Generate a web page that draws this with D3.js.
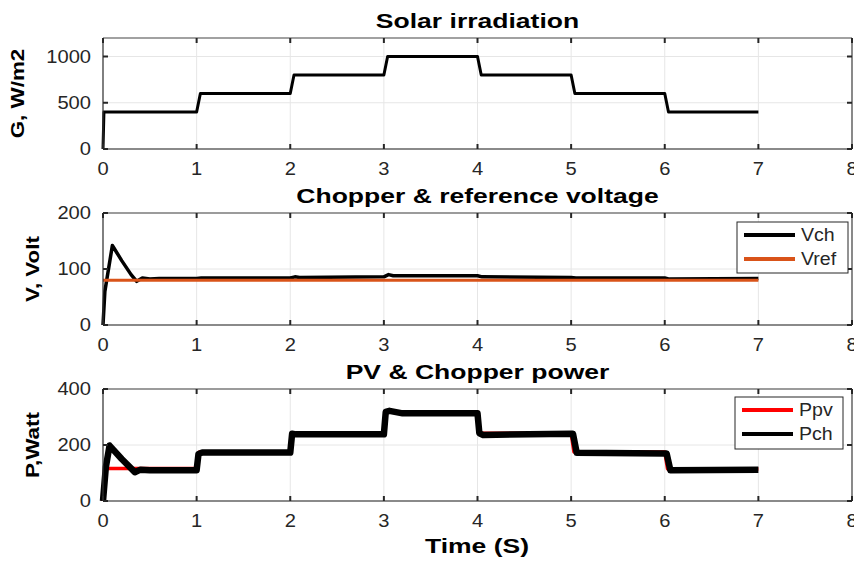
<!DOCTYPE html>
<html>
<head>
<meta charset="utf-8">
<script src="https://cdn.jsdelivr.net/npm/d3@7"></script>
<style>
  body { margin:0; background:#fff; }
  svg { display:block; }
</style>
</head>
<body>
<div id="chart"></div>
<script>
var W = 854, H = 563

var xTicks = [0,1,2,3,4,5,6,7,8]

// solar irradiation, W/m2
var gTime = [0, 0.01, 1.0, 1.04, 2.0, 2.04, 3.0, 3.04, 4.0, 4.04, 5.0, 5.04, 6.0, 6.04, 7.0]
var gVal  = [0, 400, 400, 600, 600, 800, 800, 1000, 1000, 800, 800, 600, 600, 400, 400]
var gTicks = [0, 500, 1000]

// chopper & reference voltage
var vchTime = [0, 0.02, 0.1, 0.2, 0.3, 0.36, 0.42, 0.5, 0.6, 1.0, 1.05, 2.0, 2.05, 2.1, 3.0, 3.05, 3.1, 4.0, 4.05, 5.0, 5.05, 6.0, 6.05, 7.0]
var vchVal  = [0, 60, 142, 115, 90, 78, 84, 82, 83, 83, 84, 84, 86, 85, 86, 90, 88, 88, 86, 85, 84, 84, 82, 83]
var vrefTime = [0, 7]
var vrefVal  = [80, 80]
var vTicks = [0, 100, 200]

// PV & chopper power
var ppvTime = [0, 0.02, 1.0, 1.03, 2.0, 2.03, 3.0, 3.03, 4.0, 4.03, 5.0, 5.03, 6.0, 6.03, 7.0]
var ppvVal  = [0, 116, 116, 175, 175, 242, 242, 318, 318, 242, 242, 175, 175, 114, 114]
var pchTime = [0, 0.03, 0.07, 0.2, 0.34, 0.4, 0.5, 1.0, 1.02, 1.06, 2.0, 2.02, 2.06, 3.0, 3.02, 3.06, 3.2, 4.0, 4.02, 4.06, 5.0, 5.02, 5.06, 6.0, 6.02, 6.06, 7.0]
var pchVal  = [0, 120, 198, 150, 103, 112, 110, 110, 168, 173, 173, 240, 238, 238, 318, 322, 313, 313, 242, 236, 240, 240, 172, 170, 170, 110, 112]
var pTicks = [0, 200, 400]

var FONT = "'Liberation Sans', Arial, Helvetica, sans-serif"
var INK = "#262626"

var panels = [
  { title:"Solar irradiation", ylabel:"G, W/m2", yDomain:[0,1200], yTicks:gTicks, top:38, bottom:149, labelX:24,
    series:[{t:gTime, v:gVal, color:"#000", width:3}], legend:null },
  { title:"Chopper & reference voltage", ylabel:"V, Volt", yDomain:[0,200], yTicks:vTicks, top:213, bottom:325, labelX:39,
    series:[{t:vchTime, v:vchVal, color:"#000", width:3.5, name:"Vch"},
            {t:vrefTime, v:vrefVal, color:"#D95319", width:3, name:"Vref"}],
    legend:{x:737, y:222, w:111, h:51} },
  { title:"PV & Chopper power", ylabel:"P,Watt", yDomain:[0,400], yTicks:pTicks, top:389, bottom:501, labelX:39,
    series:[{t:ppvTime, v:ppvVal, color:"#FF0000", width:3.5, name:"Ppv"},
            {t:pchTime, v:pchVal, color:"#000", width:6.5, name:"Pch"}],
    legend:{x:735, y:397, w:108, h:52} }
]

var svg = d3.select("#chart").append("svg")
  .attr("width", W).attr("height", H)

var x = d3.scaleLinear().domain([0,8]).range([103,852])

// text with MATLAB-ish horizontal stretch
function stretchText(g, px, py, str, size, bold, sx, anchor, rot) {
  return g.append("text")
    .attr("transform", "translate(" + px + "," + py + ")" + (rot ? " rotate(" + rot + ")" : "") + " scale(" + sx + ",1)")
    .attr("text-anchor", anchor || "middle")
    .style("font-family", FONT)
    .style("font-size", size + "px")
    .style("font-weight", bold ? "bold" : "normal")
    .style("fill", bold ? "#000" : INK)
    .text(str)
}

panels.forEach(function(p) {
  var y = d3.scaleLinear().domain(p.yDomain).range([p.bottom, p.top])
  var g = svg.append("g")
  var x0 = x.range()[0], x1 = x.range()[1]

  // grid
  g.selectAll(".vgrid").data(xTicks).enter().append("line")
    .attr("x1", function(d){return x(d)}).attr("x2", function(d){return x(d)})
    .attr("y1", p.top).attr("y2", p.bottom)
    .style("stroke", "#e6e6e6").style("stroke-width", 1)
  g.selectAll(".hgrid").data(p.yTicks).enter().append("line")
    .attr("x1", x0).attr("x2", x1)
    .attr("y1", function(d){return y(d)}).attr("y2", function(d){return y(d)})
    .style("stroke", "#e6e6e6").style("stroke-width", 1)

  // data
  p.series.forEach(function(s) {
    var pts = s.t.map(function(t, i){ return [t, s.v[i]] })
    g.append("path")
      .datum(pts)
      .attr("d", d3.line().x(function(d){return x(d[0])}).y(function(d){return y(d[1])}))
      .style("fill", "none")
      .style("stroke", s.color)
      .style("stroke-width", s.width)
      .style("stroke-linejoin", "round")
      .style("stroke-linecap", "butt")
  })

  // box
  g.append("line").attr("x1", x0).attr("x2", x1).attr("y1", p.top).attr("y2", p.top)
    .style("stroke", "#444").style("stroke-width", 1.2)
  g.append("line").attr("x1", x1).attr("x2", x1).attr("y1", p.top).attr("y2", p.bottom)
    .style("stroke", "#444").style("stroke-width", 1.2)
  g.append("line").attr("x1", x0).attr("x2", x0).attr("y1", p.top).attr("y2", p.bottom)
    .style("stroke", "#333").style("stroke-width", 1.2)
  g.append("line").attr("x1", x0).attr("x2", x1).attr("y1", p.bottom).attr("y2", p.bottom)
    .style("stroke", "#8a8a8a").style("stroke-width", 2)

  // ticks (inside, top/bottom/left/right)
  xTicks.forEach(function(d) {
    g.append("line").attr("x1", x(d)).attr("x2", x(d)).attr("y1", p.bottom).attr("y2", p.bottom - 5)
      .style("stroke", INK).style("stroke-width", 2)
    g.append("line").attr("x1", x(d)).attr("x2", x(d)).attr("y1", p.top).attr("y2", p.top + 5)
      .style("stroke", INK).style("stroke-width", 2)
    stretchText(g, x(d), p.bottom + 26, String(d), 17.5, false, 1.15)
  })
  p.yTicks.forEach(function(d) {
    g.append("line").attr("x1", x0).attr("x2", x0 + 5).attr("y1", y(d)).attr("y2", y(d))
      .style("stroke", INK).style("stroke-width", 2)
    g.append("line").attr("x1", x1).attr("x2", x1 - 5).attr("y1", y(d)).attr("y2", y(d))
      .style("stroke", INK).style("stroke-width", 2)
    stretchText(g, x0 - 12, y(d) + 6, String(d), 17.5, false, 1.15, "end")
  })

  // title and y label
  stretchText(g, (x0 + x1) / 2, p.top - 10, p.title, 19.5, true, 1.36)
  stretchText(g, p.labelX, (p.top + p.bottom) / 2, p.ylabel, 19, true, 1.18, "middle", -90)

  // legend
  if (p.legend) {
    var L = p.legend
    g.append("rect").attr("x", L.x).attr("y", L.y).attr("width", L.w).attr("height", L.h)
      .style("fill", "#fff").style("stroke", INK).style("stroke-width", 1)
    p.series.forEach(function(s, i) {
      var ly = L.y + 13 + i * 24
      g.append("line").attr("x1", L.x + 7).attr("x2", L.x + 58).attr("y1", ly).attr("y2", ly)
        .style("stroke", s.color).style("stroke-width", 4)
      stretchText(g, L.x + 64, ly + 6, s.name, 17.5, false, 1.12, "start")
    })
  }
})

stretchText(svg, 477, 553, "Time (S)", 19.5, true, 1.36)
</script>
</body>
</html>
